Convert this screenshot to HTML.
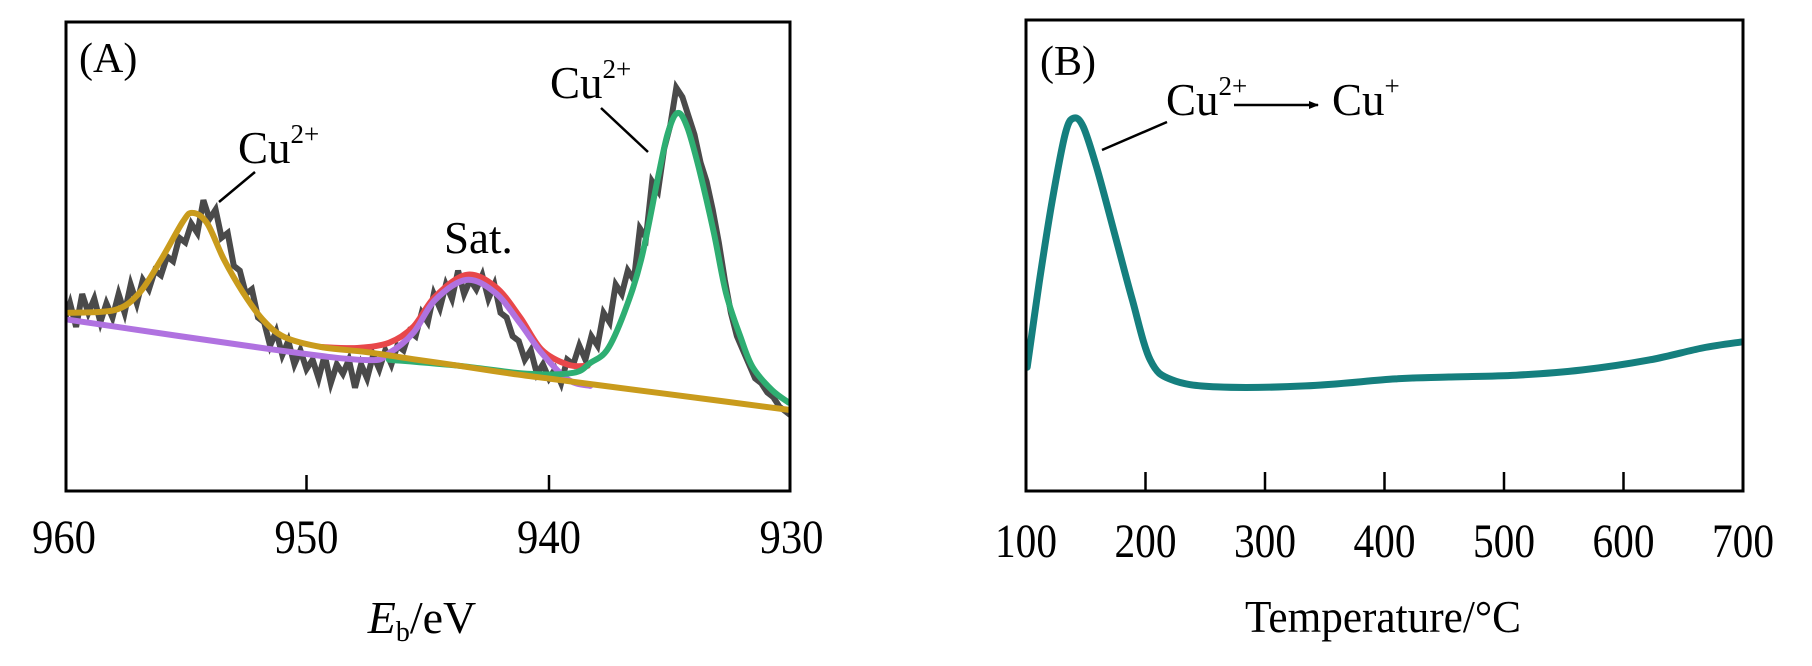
<!DOCTYPE html>
<html><head><meta charset="utf-8"><style>
html,body{margin:0;padding:0;background:#fff;}
svg{display:block;font-family:"Liberation Serif",serif;}
</style></head><body>
<svg id="chart" width="1812" height="666" viewBox="0 0 1812 666" xmlns="http://www.w3.org/2000/svg">
<defs>
<clipPath id="clipA"><rect x="66" y="22" width="724" height="469"/></clipPath>
<clipPath id="clipB"><rect x="1026" y="20" width="717" height="471"/></clipPath>
<marker id="arrowhead" markerWidth="10" markerHeight="8" refX="9" refY="4" orient="auto" markerUnits="userSpaceOnUse"><path d="M0,0 L10,4 L0,8 Z" fill="#000"/></marker>
</defs>
<g id="panelA"></g>
<g id="panelB"></g>
</svg>
<script>
// ---- Panel A data (binding energy eV, intensity a.u.) ----
const aXTicks = [960, 950, 940, 930];
const aRawE = [960,959.75,959.5,959.25,959,958.75,958.5,958.25,958,
957.75,957.5,957.25,957,956.75,956.5,956.25,956,
955.75,955.5,955.25,955,954.75,954.5,954.25,954,
953.75,953.5,953.25,953,952.75,952.5,952.25,952,
951.75,951.5,951.25,951,950.75,950.5,950.25,950,
949.75,949.5,949.25,949,948.75,948.5,948.25,948,
947.75,947.5,947.25,947,946.75,946.5,946.25,946,
945.75,945.5,945.25,945,944.75,944.5,944.25,944,
943.75,943.5,943.25,943,942.75,942.5,942.25,942,
941.75,941.5,941.25,941,940.75,940.5,940.25,940,
939.75,939.5,939.25,939,938.75,938.5,938.25,938,
937.75,937.5,937.25,937,936.75,936.5,936.25,936,
935.75,935.5,935.25,935,934.75,934.5,934.25,934,
933.75,933.5,933.25,933,932.75,932.5,932.25,932,
931.75,931.5,931.25,931,930.75,930.5,930.25,930];
const aRawI = [36,40,35,42,38,41,36,40,37,
42,38,44,40,45,43,47,46,
50,49,54,53,57,55,62,58,
60,54,55,48,47,42,43,37,
36,31,34,29,32,27,30,26,
28,24,29,23,27,25,28,22,
27,24,29,26,30,27,31,30,
34,33,38,36,42,39,44,41,
47,42,45,43,46,41,44,38,
37,33,32,28,30,25,27,24,
26,23,28,27,31,28,33,31,
38,36,44,42,47,45,56,54,
66,64,73,78,86,84,80,76,
70,66,60,53,45,38,33,30,
27,24,23,21,20,18,17,16];
const aYellowE = [959.8,957.9,956.9,956.0,955.1,954.7,954.1,953.4,952.6,951.8,950.9,949.4,947.5,945.6,943.7,941.8,939.9,938.0,932.9,930.1];
const aYellowI = [38.0,38.6,42.2,49.3,57.4,59.3,57.1,49.3,42.2,36.5,32.8,30.7,29.6,28.1,26.7,25.2,23.9,22.6,19.2,17.3];
const aPurpleE = [959.8,951.3,947.5,946.6,945.6,944.7,943.4,942.2,941.2,940.3,939.2,938.3];
const aPurpleI = [36.5,30.1,27.9,29.4,33.7,40.7,45.0,42.2,35.8,29.4,23.7,22.4];
const aRedE = [949.4,947.9,946.6,945.6,944.7,943.4,942.2,941.2,940.3,939.2,938.4];
const aRedI = [30.7,30.5,31.6,35.0,41.4,46.1,43.5,37.1,30.1,26.9,26.7];
const aGreenE = [946.6,943.7,940.9,939.0,938.3,937.6,936.9,936.2,935.5,935.1,934.7,934.3,933.8,933.2,932.7,932.1,931.6,930.8,930.1];
const aGreenI = [28.0,26.7,25.0,25.2,27.3,30.1,38.0,49.3,67.0,76.3,80.6,77.6,68.4,55.0,42.2,32.8,26.4,21.5,18.8];
// ---- Panel B data (temperature °C, H2 consumption a.u.) ----
const bXTicks = [100, 200, 300, 400, 500, 600, 700];
const bT = [101,111,122,133,140,148,159,174,189,204,222,260,334,409,454,510,565,621,666,699];
const bS = [26.4,44.3,62.0,76.3,79.5,77.6,69.1,55.0,40.7,27.9,23.7,22.2,22.4,23.9,24.3,24.7,25.8,27.9,30.5,31.8];

const NS = "http://www.w3.org/2000/svg";
function xA(e){ return 64 + (960 - e) * 24.25; }
function yA(i){ return 491 - i * 4.69; }
function xB(t){ return 1026 + (t - 100) * 1.195; }
function yB(s){ return 491 - s * 4.69; }

function mk(tag, attrs, parent){
  const el = document.createElementNS(NS, tag);
  for (const k in attrs) el.setAttribute(k, attrs[k]);
  parent.appendChild(el);
  return el;
}
function smoothPath(pts){
  let d = "M" + pts[0][0].toFixed(1) + "," + pts[0][1].toFixed(1);
  for (let i = 0; i < pts.length - 1; i++){
    const p0 = pts[Math.max(0,i-1)], p1 = pts[i], p2 = pts[i+1], p3 = pts[Math.min(pts.length-1,i+2)];
    const c1x = p1[0] + (p2[0]-p0[0])/6, c1y = p1[1] + (p2[1]-p0[1])/6;
    const c2x = p2[0] - (p3[0]-p1[0])/6, c2y = p2[1] - (p3[1]-p1[1])/6;
    d += " C" + c1x.toFixed(1)+","+c1y.toFixed(1)+" "+c2x.toFixed(1)+","+c2y.toFixed(1)+" "+p2[0].toFixed(1)+","+p2[1].toFixed(1);
  }
  return d;
}
function linePath(pts){
  return pts.map((p,i)=>(i?"L":"M")+p[0].toFixed(1)+","+p[1].toFixed(1)).join(" ");
}

// ===== Panel A =====
const gA = document.getElementById("panelA");
const plotA = mk("g", {"clip-path":"url(#clipA)"}, gA);



const raw = mk("path", {d: linePath(aRawE.map((e,i)=>[xA(e), yA(aRawI[i])])), fill:"none", stroke:"#4a4a4a", "stroke-width":"6", "stroke-linejoin":"miter"}, plotA);



const red = mk("path", {d: smoothPath(aRedE.map((e,i)=>[xA(e), yA(aRedI[i])])), fill:"none", stroke:"#e8474a", "stroke-width":"6", "stroke-linecap":"round"}, plotA);



const purple = mk("path", {d: smoothPath(aPurpleE.map((e,i)=>[xA(e), yA(aPurpleI[i])])), fill:"none", stroke:"#b072e0", "stroke-width":"6", "stroke-linecap":"round"}, plotA);



const green = mk("path", {d: smoothPath(aGreenE.map((e,i)=>[xA(e), yA(aGreenI[i])])), fill:"none", stroke:"#2eae72", "stroke-width":"6", "stroke-linecap":"round"}, plotA);



const yellow = mk("path", {d: smoothPath(aYellowE.map((e,i)=>[xA(e), yA(aYellowI[i])])), fill:"none", stroke:"#c99b1c", "stroke-width":"6", "stroke-linecap":"round"}, plotA);



const frameA = mk("rect", {x:66, y:22, width:724, height:469, fill:"none", stroke:"#000", "stroke-width":"3"}, gA);



aXTicks.forEach(v=>{
  const x = xA(v);
  if (v !== 960 && v !== 930){
    const t = mk("line", {x1:x, y1:491, x2:x, y2:475, stroke:"#000", "stroke-width":"2.5"}, gA);
    
    
  }
  const lb = mk("text", {x:x, y:553, "font-size":"48", "text-anchor":"middle", textLength:"64", lengthAdjust:"spacingAndGlyphs"}, gA);
  lb.textContent = String(v);
  
  
});
</script>
<script>
(function(){
  const gA = document.getElementById("panelA");
  gA.insertAdjacentHTML("beforeend",
   '<text x="79" y="72" font-size="42">(A)</text>'+
   '<text x="238" y="163" font-size="45">Cu<tspan font-size="27" dy="-20">2+</tspan></text>'+
   '<line x1="255" y1="172" x2="219" y2="202" stroke="#000" stroke-width="2.5"/>'+
   '<text x="444" y="253" font-size="45">Sat.</text>'+
   '<text x="550" y="98" font-size="45">Cu<tspan font-size="27" dy="-20">2+</tspan></text>'+
   '<line x1="601" y1="108" x2="648" y2="152" stroke="#000" stroke-width="2.5"/>'+
   '<text x="422" y="633" font-size="46" text-anchor="middle"><tspan font-style="italic">E</tspan><tspan font-size="28" dy="8">b</tspan><tspan dy="-8">/eV</tspan></text>');
})();
</script>
<script>
(function(){
const gB = document.getElementById("panelB");
const plotB = mk("g", {"clip-path":"url(#clipB)"}, gB);


const tpr = mk("path", {d: smoothPath(bT.map((t,i)=>[xB(t), yB(bS[i])])), fill:"none", stroke:"#157f7e", "stroke-width":"7", "stroke-linecap":"round"}, plotB);



const frameB = mk("rect", {x:1026, y:20, width:717, height:471, fill:"none", stroke:"#000", "stroke-width":"3"}, gB);



bXTicks.forEach(v=>{
  const x = xB(v);
  if (v !== 100 && v !== 700){
    const t = mk("line", {x1:x, y1:491, x2:x, y2:472, stroke:"#000", "stroke-width":"2.5"}, gB);
    
    
  }
  const lb = mk("text", {x:x, y:557, "font-size":"48", "text-anchor":"middle", textLength:"62", lengthAdjust:"spacingAndGlyphs"}, gB);
  lb.textContent = String(v);
  
  
});

gB.insertAdjacentHTML("beforeend",
 '<text x="1040" y="75" font-size="42">(B)</text>'+
 '<text x="1166" y="115" font-size="45">Cu<tspan font-size="27" dy="-20">2+</tspan></text>'+
 '<line x1="1234" y1="105" x2="1318" y2="105" stroke="#000" stroke-width="2.5" marker-end="url(#arrowhead)"/>'+
 '<text x="1332" y="115" font-size="45">Cu<tspan font-size="27" dy="-20">+</tspan></text>'+
 '<line x1="1167" y1="122" x2="1102" y2="150" stroke="#000" stroke-width="2.5"/>'+
 '<text x="1383" y="632" font-size="46" text-anchor="middle" textLength="276" lengthAdjust="spacingAndGlyphs">Temperature/°C</text>');
})();
</script>
</body></html>
